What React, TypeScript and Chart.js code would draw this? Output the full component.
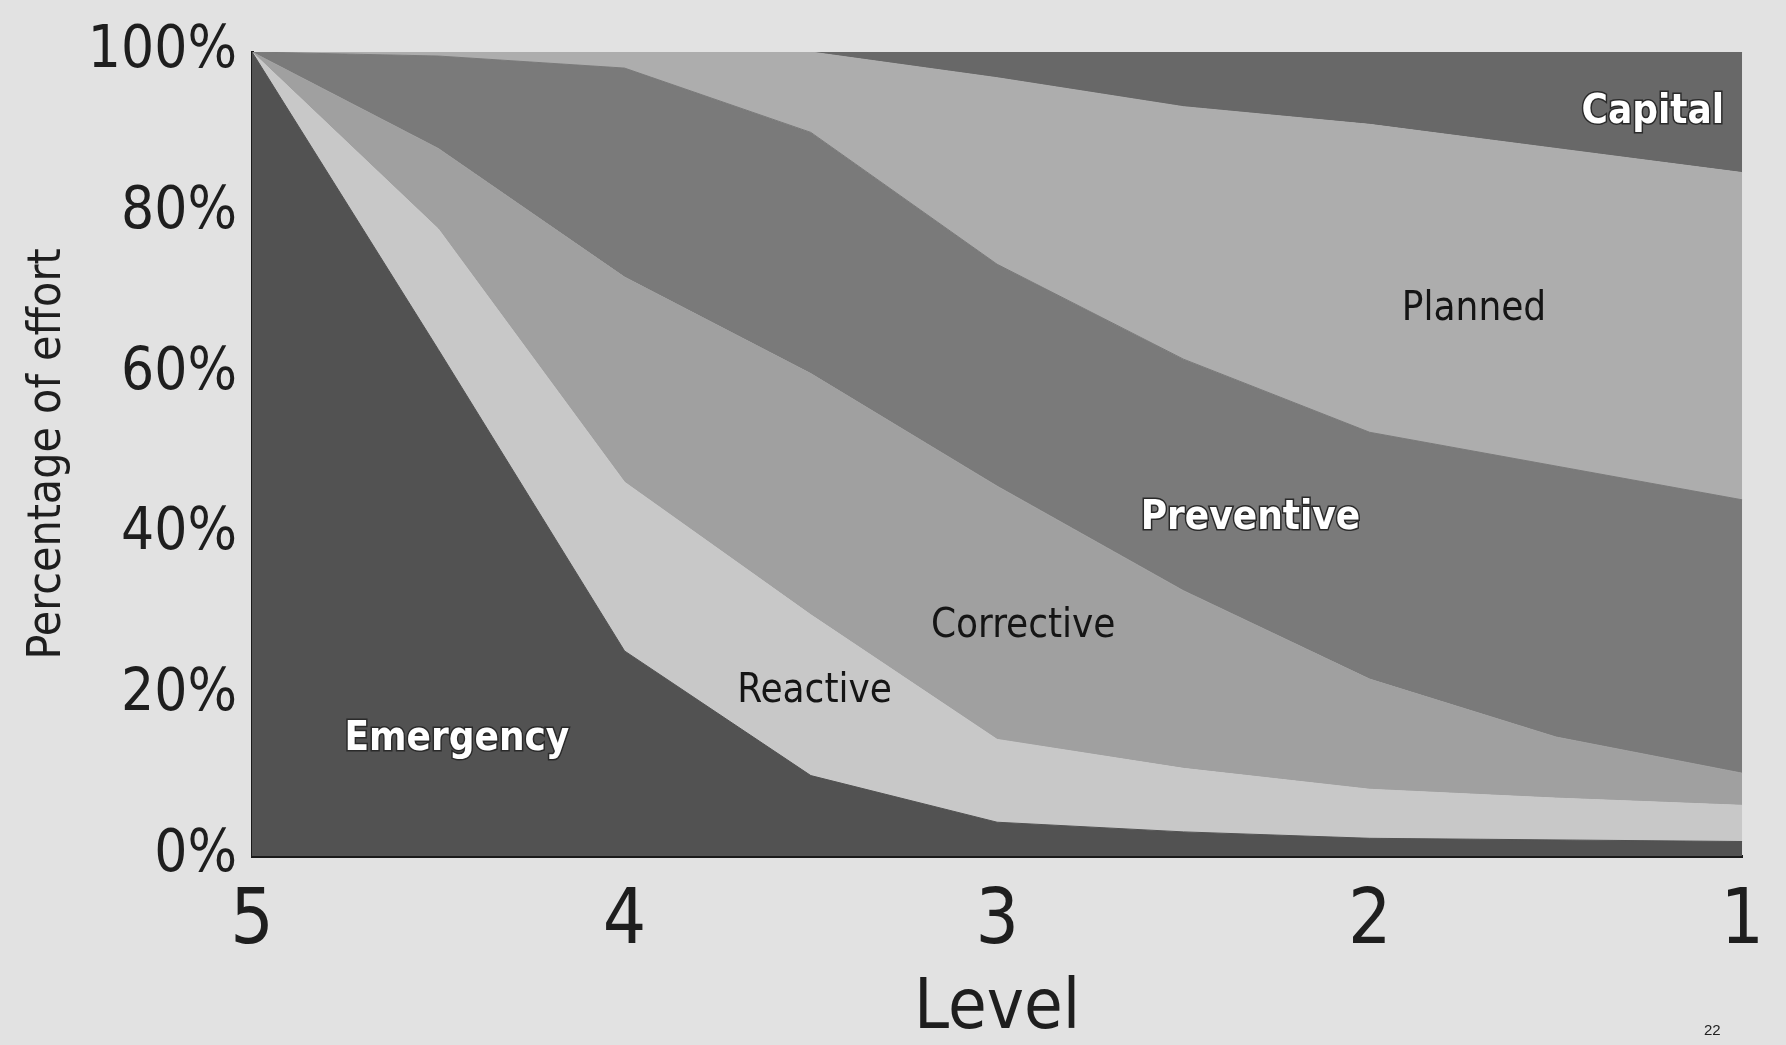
import React, { useEffect, useRef } from 'react';
import { Chart, registerables } from 'chart.js';

Chart.register(...registerables);

// ---- data (levels run 5 -> 1, values are % of effort per series, stacked) ----
const levels = [5, 4.5, 4, 3.5, 3, 2.5, 2, 1.5, 1];
const emergency = [100, 63, 25.5, 10, 4.2, 3, 2.2, 2, 1.8];
const reactive = [0, 15, 21, 20, 10.3, 7.9, 6.1, 5.2, 4.5];
const corrective = [0, 10, 25.5, 30, 31.5, 22.1, 13.7, 7.6, 4];
const preventive = [0, 11.5, 26, 30, 27.6, 28.8, 30.7, 33.7, 34];
const planned = [0, 0.5, 2, 10, 23.2, 31.4, 38.3, 39.5, 40.7];
const capital = [0, 0, 0, 0, 3.2, 6.8, 9, 12, 15];

const seriesNames = ['Emergency', 'Reactive', 'Corrective', 'Preventive', 'Planned', 'Capital'];
const seriesValues = [emergency, reactive, corrective, preventive, planned, capital];
const seriesColors = ['#525252', '#c8c8c8', '#a0a0a0', '#7a7a7a', '#adadad', '#686868'];

const yTickValues = [0, 20, 40, 60, 80, 100];
const xTickValues = [5, 4, 3, 2, 1];

// in-band labels (anchor in data units: level, percent)
const bandLabelLevels = [4.45, 3.49, 2.93, 2.32, 1.72, 1.24];
const bandLabelPercents = [14.5, 20.5, 28.5, 42, 68, 92.5];
const bandLabelWhite = [true, false, false, true, false, true];

const NARROW = "'Liberation Sans Narrow', 'DejaVu Sans Condensed', 'Roboto Condensed', 'Liberation Sans', sans-serif";

const bandLabelsPlugin = {
  id: 'bandLabels',
  afterDatasetsDraw(chart: any) {
    const { ctx, scales } = chart;
    const x = scales.x;
    const y = scales.y;
    ctx.save();
    ctx.textAlign = 'center';
    ctx.textBaseline = 'middle';
    seriesNames.forEach((t, i) => {
      const px = x.getPixelForValue(bandLabelLevels[i]);
      const py = y.getPixelForValue(bandLabelPercents[i]);
      const white = bandLabelWhite[i];
      ctx.font = `${white ? 'bold' : 'normal'} 40px ${NARROW}`;
      if (white) {
        ctx.lineWidth = 3;
        ctx.strokeStyle = '#2a2a2a';
        ctx.strokeText(t, px, py);
        ctx.fillStyle = '#ffffff';
      } else {
        ctx.fillStyle = '#151515';
      }
      ctx.fillText(t, px, py);
    });
    ctx.restore();
  },
};

export default function App() {
  const canvasRef = useRef<HTMLCanvasElement | null>(null);

  useEffect(() => {
    if (!canvasRef.current) return;
    const datasets = seriesNames.map((name, i) => ({
      label: name,
      data: levels.map((lv, j) => ({ x: lv, y: seriesValues[i][j] })),
      backgroundColor: seriesColors[i],
      borderColor: seriesColors[i],
      borderWidth: 1,
      pointRadius: 0,
      tension: 0,
      fill: i === 0 ? 'origin' : '-1',
    }));

    const chart = new Chart(canvasRef.current, {
      type: 'line',
      data: { datasets },
      options: {
        animation: false,
        responsive: false,
        maintainAspectRatio: false,
        layout: { padding: { left: 0, right: 14, top: 52, bottom: 0 } },
        plugins: {
          legend: { display: false },
          tooltip: { enabled: false },
        },
        scales: {
          x: {
            type: 'linear',
            reverse: true,
            min: 1,
            max: 5,
            afterFit(scale: any) {
              scale.height = 189;
            },
            afterBuildTicks(scale: any) {
              scale.ticks = xTickValues.map((v) => ({ value: v }));
            },
            grid: { display: false, drawTicks: false, tickLength: 0 },
            border: { display: true, color: '#1a1a1a', width: 3 },
            ticks: {
              color: '#1e1e1e',
              padding: 22,
              font: { family: NARROW, size: 76 },
              callback: (v: any) => String(v),
            },
            title: {
              display: true,
              text: 'Level',
              color: '#1e1e1e',
              font: { family: NARROW, size: 70, lineHeight: 1 },
              padding: { top: 0, bottom: 0 },
            },
          },
          y: {
            type: 'linear',
            stacked: true,
            min: 0,
            max: 100,
            afterFit(scale: any) {
              scale.width = 252;
            },
            afterBuildTicks(scale: any) {
              scale.ticks = yTickValues.map((v) => ({ value: v }));
            },
            grid: { display: false, drawTicks: false, tickLength: 0 },
            border: { display: true, color: '#1a1a1a', width: 3 },
            ticks: {
              color: '#1e1e1e',
              padding: 15,
              font: { family: NARROW, size: 58 },
              callback: (v: any) => v + '%',
            },
            title: {
              display: true,
              text: 'Percentage of effort',
              color: '#1e1e1e',
              font: { family: NARROW, size: 46, lineHeight: 1 },
              padding: { top: 25, bottom: 0 },
            },
          },
        },
      },
      plugins: [bandLabelsPlugin],
    });
    return () => chart.destroy();
  }, []);

  return (
    <div
      style={{
        position: 'fixed',
        left: 0,
        top: 0,
        width: 1786,
        height: 1045,
        background: '#e2e2e2',
        overflow: 'hidden',
      }}
    >
      <canvas ref={canvasRef} width={1786} height={1045} style={{ display: 'block' }} />
      <div
        style={{
          position: 'absolute',
          left: 1704,
          top: 1021,
          fontFamily: "'Liberation Sans', sans-serif",
          fontSize: 15,
          color: '#222',
        }}
      >
        22
      </div>
    </div>
  );
}
